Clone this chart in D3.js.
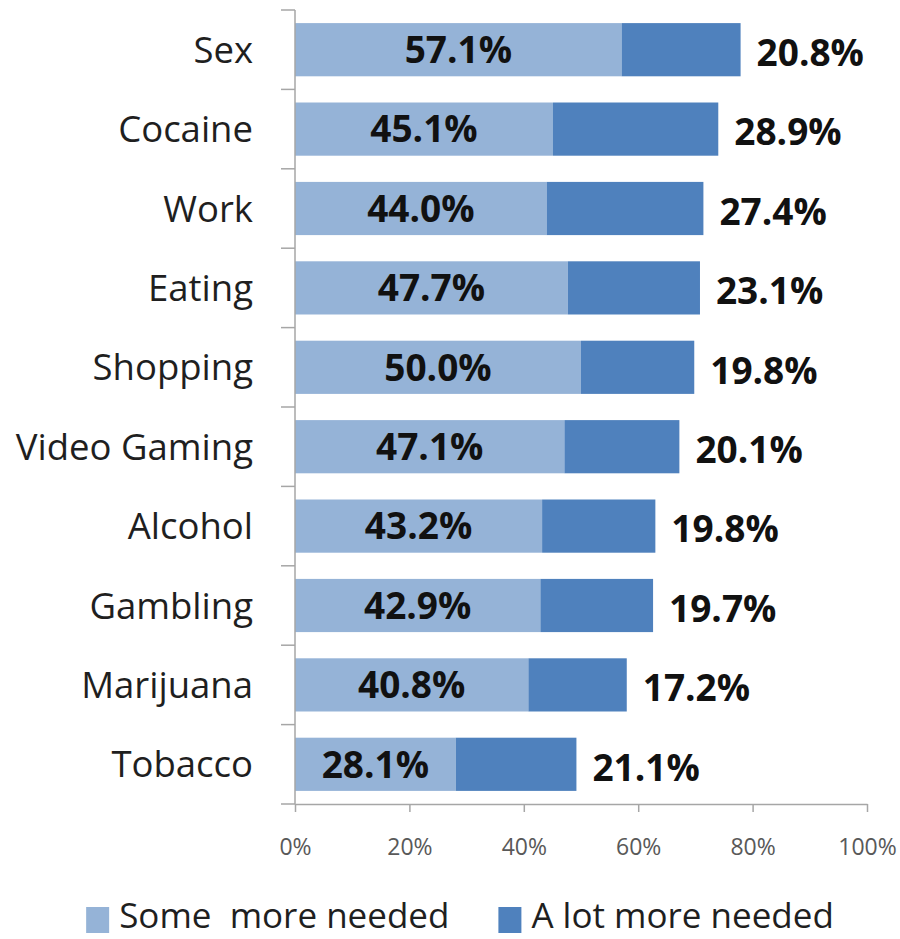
<!DOCTYPE html>
<html>
<head>
<meta charset="utf-8">
<script src="https://cdn.jsdelivr.net/npm/d3@7"></script>
<style>
  html, body { margin: 0; padding: 0; background: #fff; }
  svg { display: block; font-family: "Open Sans", "Noto Sans", sans-serif; }
</style>
</head>
<body>
<svg id="chart" width="900" height="939"></svg>
<script>
// Share of respondents saying more help is needed, per addiction type (%)
const categories = ["Sex", "Cocaine", "Work", "Eating", "Shopping", "Video Gaming",
                    "Alcohol", "Gambling", "Marijuana", "Tobacco"];
const someMore  = [57.1, 45.1, 44.0, 47.7, 50.0, 47.1, 43.2, 42.9, 40.8, 28.1];
const aLotMore  = [20.8, 28.9, 27.4, 23.1, 19.8, 20.1, 19.8, 19.7, 17.2, 21.1];
const seriesNames = ["Some  more needed", "A lot more needed"];
const xTicks = [0, 20, 40, 60, 80, 100];

const colors = ["#95B3D7", "#4F81BD"];
const axisColor = "#A6A6A6";

const svg = d3.select("#chart");
const plot = { left: 295, right: 867, top: 10, bottom: 804 };

const x = d3.scaleLinear().domain([0, 100]).range([plot.left, plot.right]);
const y = d3.scaleBand().domain(categories).range([plot.top, plot.bottom])
  .paddingInner(0.33).paddingOuter(0.165);

const rows = categories.map((c, i) => ({ cat: c, some: someMore[i], lot: aLotMore[i] }));
const stacked = d3.stack().keys(["some", "lot"])(rows);

// bars
svg.append("g").selectAll("g").data(stacked).join("g")
  .attr("fill", (d, i) => colors[i])
  .selectAll("rect").data(d => d).join("rect")
  .attr("x", d => x(d[0]))
  .attr("width", d => x(d[1]) - x(d[0]))
  .attr("y", d => y(d.data.cat))
  .attr("height", y.bandwidth());

// category axis: line with ticks at band boundaries
const yAxis = svg.append("g");
yAxis.append("line")
  .attr("x1", plot.left).attr("x2", plot.left)
  .attr("y1", plot.top).attr("y2", plot.bottom)
  .attr("stroke", axisColor).attr("stroke-width", 1.5);
const boundaries = d3.range(categories.length + 1).map(i => plot.top + i * y.step());
yAxis.selectAll("line.tick").data(boundaries).join("line")
  .attr("class", "tick")
  .attr("x1", plot.left - 14).attr("x2", plot.left)
  .attr("y1", d => d).attr("y2", d => d)
  .attr("stroke", axisColor).attr("stroke-width", 1.5);
yAxis.selectAll("text").data(categories).join("text")
  .attr("x", 253)
  .attr("y", d => y(d) + y.bandwidth() / 2)
  .attr("dy", "0.36em")
  .attr("text-anchor", "end")
  .attr("font-size", 36.5)
  .attr("fill", "#1f1f1f")
  .text(d => d);

// value axis
const xAxis = svg.append("g")
  .attr("transform", `translate(0,${plot.bottom})`)
  .call(d3.axisBottom(x).tickValues(xTicks).tickSize(8).tickSizeOuter(0)
        .tickFormat(d => d + "%"));
xAxis.select(".domain").attr("stroke", axisColor).attr("stroke-width", 1.5);
xAxis.selectAll(".tick line").attr("stroke", axisColor).attr("stroke-width", 1.5);
xAxis.selectAll(".tick text")
  .attr("y", 43).attr("dy", "0.36em")
  .attr("font-size", 23)
  .attr("font-family", "'Open Sans', sans-serif")
  .attr("fill", "#595959");

// value labels
const fmt = v => v.toFixed(1) + "%";
svg.append("g").selectAll("text").data(rows).join("text")
  .attr("x", d => x(d.some / 2))
  .attr("y", d => y(d.cat) + y.bandwidth() / 2)
  .attr("dy", "0.36em")
  .attr("text-anchor", "middle")
  .attr("font-size", 37).attr("font-weight", "bold")
  .attr("fill", "#111")
  .text(d => fmt(d.some));
svg.append("g").selectAll("text").data(rows).join("text")
  .attr("x", d => x(d.some + d.lot) + 16)
  .attr("y", d => y(d.cat) + y.bandwidth() / 2 + 3)
  .attr("dy", "0.36em")
  .attr("text-anchor", "start")
  .attr("font-size", 37).attr("font-weight", "bold")
  .attr("fill", "#111")
  .text(d => fmt(d.lot));

// legend
const legend = svg.append("g");
const items = legend.selectAll("g").data(seriesNames).join("g");
items.append("rect")
  .attr("width", 23).attr("height", 26)
  .attr("y", 907)
  .attr("fill", (d, i) => colors[i]);
items.append("text")
  .attr("x", 33).attr("y", 915).attr("dy", "0.36em")
  .attr("font-size", 35).attr("fill", "#1f1f1f")
  .attr("xml:space", "preserve").style("white-space", "pre")
  .text(d => d);
let cursor = 0;
const widths = [];
items.each(function () { widths.push(this.getBBox().width); });
const gap = 49;
const total = d3.sum(widths) + gap * (widths.length - 1);
cursor = 460 - total / 2;
items.attr("transform", (d, i) => {
  const t = `translate(${cursor},0)`;
  cursor += widths[i] + gap;
  return t;
});
</script>
</body>
</html>
